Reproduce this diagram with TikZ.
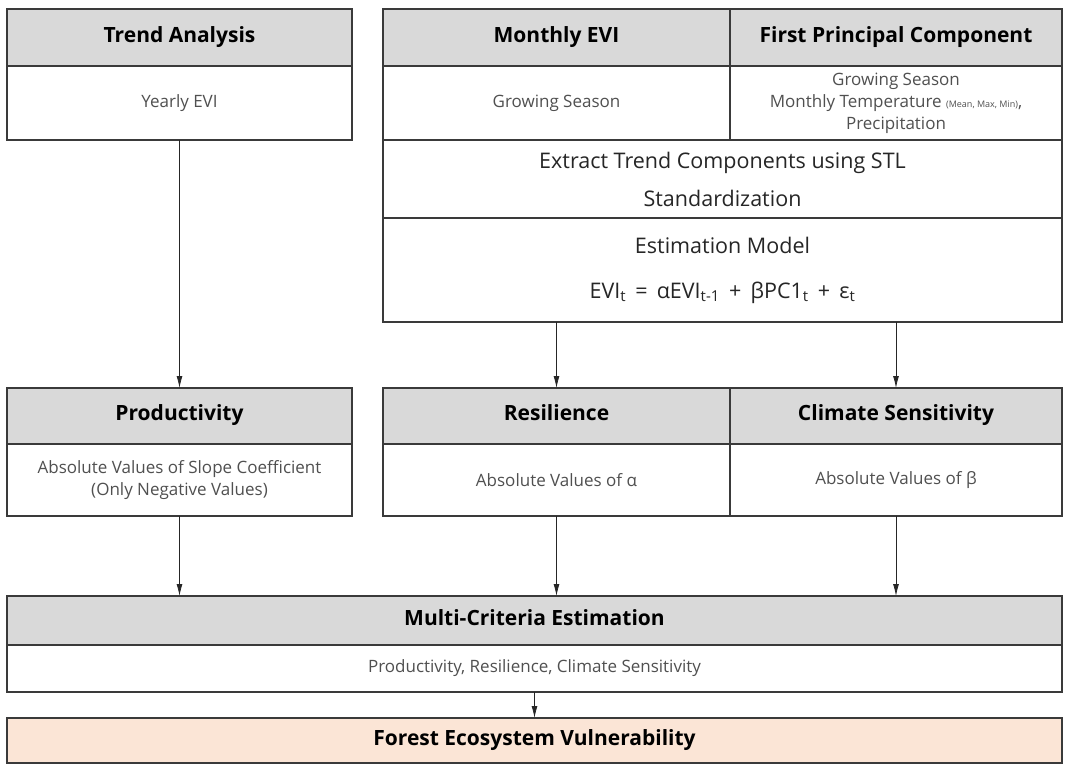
\documentclass[tikz,border=0pt]{standalone}
\usepackage{fontspec}
\setmainfont{Open Sans}
\usetikzlibrary{positioning, arrows.meta}

\definecolor{hdrgray}{HTML}{D9D9D9}
\definecolor{edgegray}{HTML}{3A3A3A}
\definecolor{txtgray}{HTML}{505050}
\definecolor{txtdark}{HTML}{262626}
\definecolor{peach}{HTML}{FBE5D6}

\begin{document}
\begin{tikzpicture}[
    x=1pt, y=-1pt,
    node distance=0pt,
    hdr/.style={
      rectangle, draw=edgegray, line width=1.6pt, fill=hdrgray,
      outer sep=0pt, inner sep=2pt, align=center,
      text height=1.2em, text depth=0.3em,
      font=\fontsize{21}{24}\selectfont\bfseries
    },
    bodybox/.style={
      rectangle, draw=edgegray, line width=1.6pt, fill=white,
      outer sep=0pt, inner sep=2pt, align=center, text=txtgray,
      font=\fontsize{17}{22}\selectfont
    },
    mainbox/.style={
      rectangle, draw=edgegray, line width=1.6pt, fill=white,
      outer sep=0pt, inner sep=2pt, align=center, text=txtdark,
      font=\fontsize{21.5}{25}\selectfont
    },
    arr/.style={-{Latex[length=12pt, width=6pt]}, line width=0.8pt, black!85}
  ]
    \useasboundingbox (0,0) rectangle (1067,764);

    % top row
    \node[hdr, minimum width=345pt, minimum height=57pt] (trendH) at (179.5,37.5) {Trend Analysis};
    \node[bodybox, below=of trendH, minimum width=345pt, minimum height=74pt] (trendB) {Yearly EVI};

    \node[hdr, minimum width=347pt, minimum height=57pt] (eviH) at (556.5,37.5) {Monthly EVI};
    \node[hdr, right=of eviH, minimum width=332pt, minimum height=57pt] (pcH) {First Principal Component};
    \node[bodybox, below=of eviH, minimum width=347pt, minimum height=74pt] (eviB) {Growing Season};
    \node[bodybox, below=of pcH, minimum width=332pt, minimum height=74pt] (pcB)
      {Growing Season\\Monthly Temperature {\fontsize{9}{10}\selectfont(Mean, Max, Min)},\\Precipitation};

    \node[mainbox, anchor=north west, minimum width=679pt, minimum height=78pt] (stl) at (eviB.south west)
      {Extract Trend Components using STL\\[13pt]Standardization};
    \node[mainbox, below=of stl, minimum width=679pt, minimum height=104pt] (est)
      {Estimation Model\\[20pt]EVI\textsubscript{t} \,=\, αEVI\textsubscript{t-1} \,+\, βPC1\textsubscript{t} \,+\, ε\textsubscript{t}};

    % middle row
    \node[hdr, minimum width=345pt, minimum height=56pt] (prodH) at (179.5,416) {Productivity};
    \node[bodybox, below=of prodH, minimum width=345pt, minimum height=72pt] (prodB)
      {Absolute Values of Slope Coefficient\\(Only Negative Values)};

    \node[hdr, minimum width=347pt, minimum height=56pt] (resH) at (556.5,416) {Resilience};
    \node[hdr, right=of resH, minimum width=332pt, minimum height=56pt] (climH) {Climate Sensitivity};
    \node[bodybox, below=of resH, minimum width=347pt, minimum height=72pt] (resB) {Absolute Values of α};
    \node[bodybox, below=of climH, minimum width=332pt, minimum height=72pt] (climB) {Absolute Values of β};

    % bottom
    \node[hdr, minimum width=1055pt, minimum height=49pt] (mceH) at (534.5,620.5) {Multi-Criteria Estimation};
    \node[bodybox, below=of mceH, minimum width=1055pt, minimum height=47pt] (mceB)
      {Productivity, Resilience, Climate Sensitivity};
    \node[hdr, fill=peach, below=26pt of mceB, minimum width=1055pt, minimum height=45pt] (fev)
      {Forest Ecosystem Vulnerability};

    % connectors
    \draw[arr] (trendB) -- (prodH);
    \draw[arr] (est.south -| resH) -- (resH);
    \draw[arr] (est.south -| climH) -- (climH);
    \draw[arr] (prodB) -- (prodB |- mceH.north);
    \draw[arr] (resB) -- (resB |- mceH.north);
    \draw[arr] (climB) -- (climB |- mceH.north);
    \draw[arr] (mceB) -- (fev);
\end{tikzpicture}
\end{document}
